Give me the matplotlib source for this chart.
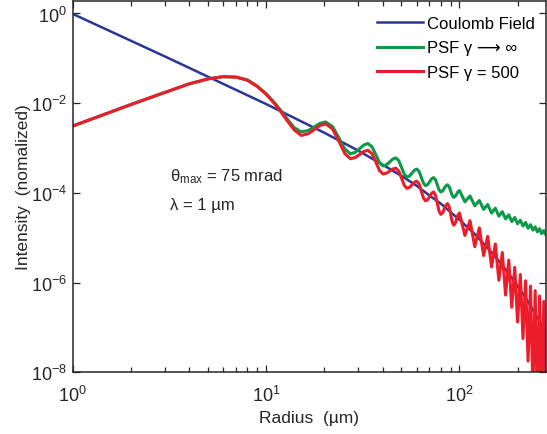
import numpy as np
import matplotlib
matplotlib.use("Agg")
import matplotlib.pyplot as plt
from matplotlib.ticker import FixedLocator, NullFormatter

plt.rcParams['font.family'] = ['Liberation Sans', 'DejaVu Sans']
plt.rcParams['mathtext.fontset'] = 'custom'
plt.rcParams['mathtext.rm'] = 'Liberation Sans'
plt.rcParams['mathtext.it'] = 'Liberation Sans:italic'

# values, intensities as log10
coulomb_r = [1, 3, 10, 20, 30, 40, 50, 60, 70, 80, 90, 100, 120, 140, 160,
             180, 200, 220, 240, 260, 280]
coulomb_log = [-0.01, -0.96, -2.02, -2.66, -3.06, -3.37, -3.62, -3.84, -4.06, -4.24,
               -4.43, -4.60, -4.92, -5.23, -5.52, -5.80, -6.08, -6.34, -6.61, -6.87, -7.12]

# radii shared by both PSF curves
psf_r = [1, 1.5, 2, 3, 4, 5, 6, 7, 8, 9, 10, 11, 12, 13, 14,
         15.2, 16.5, 17.75, 19.0, 20.3, 22.05, 23.8, 25.55,
         27.3, 28.9, 30.45, 32.0, 33.6, 35.3, 36.95, 38.6,
         40.3, 41.95, 43.6, 45.25, 46.9, 48.55, 50.2, 51.85,
         53.5, 55.2, 56.85, 58.5, 60.2, 61.85, 63.5, 65.15,
         66.8, 68.5, 70.15, 71.8, 73.5, 75.15, 76.8, 78.45,
         80.1, 81.8, 83.45, 85.1, 86.8, 88.45, 90.1, 91.75,
         93.4, 95.1, 96.75, 98.4, 100.1,
         106.7, 113.4, 120, 126.7, 133.3, 140, 146.6, 153.3, 159.9,
         166.6, 173.2, 179.9, 186.5, 193.2, 199.8, 206.5, 213.1, 219.8, 226.4,
         233.1, 239.7, 246.4, 253, 259.7, 266.3, 273, 279.6]

green_log = [-2.51, -2.23, -2.03, -1.76, -1.57, -1.46, -1.41, -1.42, -1.48, -1.62, -1.79,
             -1.98, -2.18, -2.38, -2.55,
             -2.64, -2.61, -2.53, -2.45, -2.42, -2.52, -2.775, -3.026,
             -3.13, -3.096, -3.015, -2.934, -2.90, -2.973, -3.15, -3.327,
             -3.40, -3.374, -3.31, -3.246, -3.22, -3.283, -3.435, -3.587,
             -3.65, -3.624, -3.56, -3.496, -3.47, -3.524, -3.655, -3.786,
             -3.84, -3.814, -3.75, -3.686, -3.66, -3.707, -3.82, -3.933,
             -3.98, -3.957, -3.90, -3.843, -3.82, -3.861, -3.96, -4.059,
             -4.10, -4.078, -4.025, -3.972, -3.95,
             -4.20, -4.07, -4.29, -4.17, -4.37, -4.26, -4.45, -4.34, -4.52,
             -4.42, -4.58, -4.49, -4.64, -4.55, -4.69, -4.61, -4.74, -4.66, -4.79,
             -4.71, -4.83, -4.76, -4.87, -4.80, -4.91, -4.84, -4.93]

red_log = [-2.51, -2.23, -2.03, -1.76, -1.57, -1.46, -1.41, -1.42, -1.49, -1.63, -1.80,
           -2.00, -2.21, -2.42, -2.60,
           -2.72, -2.682, -2.59, -2.498, -2.46, -2.574, -2.85, -3.126,
           -3.24, -3.212, -3.145, -3.078, -3.05, -3.127, -3.315, -3.503,
           -3.58, -3.561, -3.515, -3.469, -3.45, -3.516, -3.675, -3.834,
           -3.90, -3.877, -3.82, -3.763, -3.74, -3.804, -3.96, -4.116,
           -4.18, -4.151, -4.08, -4.009, -3.98, -4.053, -4.23, -4.407,
           -4.48, -4.445, -4.36, -4.275, -4.24, -4.31, -4.48, -4.65,
           -4.72, -4.68, -4.585, -4.49, -4.45,
           -4.95, -4.62, -5.20, -4.78, -5.40, -4.97, -5.65, -5.14, -5.95,
           -5.33, -6.28, -5.50, -6.55, -5.66, -6.88, -5.82, -7.25, -5.96, -7.75,
           -6.08, -8.40, -6.18, -8.80, -6.30, -9.00, -6.42, -8.60]

labels = ['Coulomb Field', 'PSF γ \u27f6 ∞', 'PSF γ = 500']
colors = ['#2b3595', '#0a9a48', '#ec1c2a']

fig = plt.figure(figsize=(5.47, 4.35), dpi=100)
ax = fig.add_axes([0.133, 0.142, 0.865, 0.8535])

ax.plot(coulomb_r, 10 ** np.array(coulomb_log), color=colors[0], lw=1.8, label=labels[0])
ax.plot(psf_r, 10 ** np.array(green_log), color=colors[1], lw=2.2, label=labels[1])
ax.plot(psf_r, 10 ** np.array(red_log), color=colors[2], lw=2.2, label=labels[2])

ax.set_xscale('log')
ax.set_yscale('log')
ax.set_xlim(1, 280)
ax.set_ylim(1e-8, 1.9)

ax.yaxis.set_major_locator(FixedLocator([1e-8, 1e-6, 1e-4, 1e-2, 1e0]))
ax.yaxis.set_minor_locator(FixedLocator([]))
ax.set_yticklabels([r'$\mathregular{10^{-8}}$', r'$\mathregular{10^{-6}}$',
                    r'$\mathregular{10^{-4}}$', r'$\mathregular{10^{-2}}$',
                    r'$\mathregular{10^{0}}$'])
ax.xaxis.set_major_locator(FixedLocator([1, 10, 100]))
ax.set_xticklabels([r'$\mathregular{10^{0}}$', r'$\mathregular{10^{1}}$',
                    r'$\mathregular{10^{2}}$'])
minors = [m * d for d in (1, 10, 100) for m in range(2, 10) if m * d <= 280]
ax.xaxis.set_minor_locator(FixedLocator(minors))
ax.xaxis.set_minor_formatter(NullFormatter())

ax.tick_params(which='both', direction='in', top=True, right=True, labelsize=13,
               color='#262626', labelcolor='#262626')
ax.tick_params(which='major', length=5, width=0.9)
ax.tick_params(which='minor', length=3.5, width=0.9)
ax.tick_params(axis='x', which='major', pad=9)
ax.tick_params(axis='y', which='major', pad=4)
for s in ax.spines.values():
    s.set_linewidth(1.1)
    s.set_color('#262626')

ax.set_xlabel('Radius  (µm)', fontsize=12.5, color='#262626', labelpad=4)
ax.set_ylabel('Intensity  (nomalized)', fontsize=12.5, color='#262626', labelpad=0)

ax.text(170, 435 - 177, 'θ$_{\\mathregular{max}}$ = 75 mrad', transform=None,
        fontsize=12, va='center', color='#262626')
ax.text(170, 435 - 206, 'λ = 1 µm', transform=None, fontsize=12, va='center',
        color='#262626')

leg = ax.legend(loc='upper left', frameon=False, fontsize=12, handlelength=2.75,
                handletextpad=0.25, labelspacing=0.57, borderpad=0, borderaxespad=0,
                bbox_to_anchor=(377 / 547, 1 - 17 / 435),
                bbox_transform=fig.transFigure)

fig.savefig('out.png', dpi=100)
